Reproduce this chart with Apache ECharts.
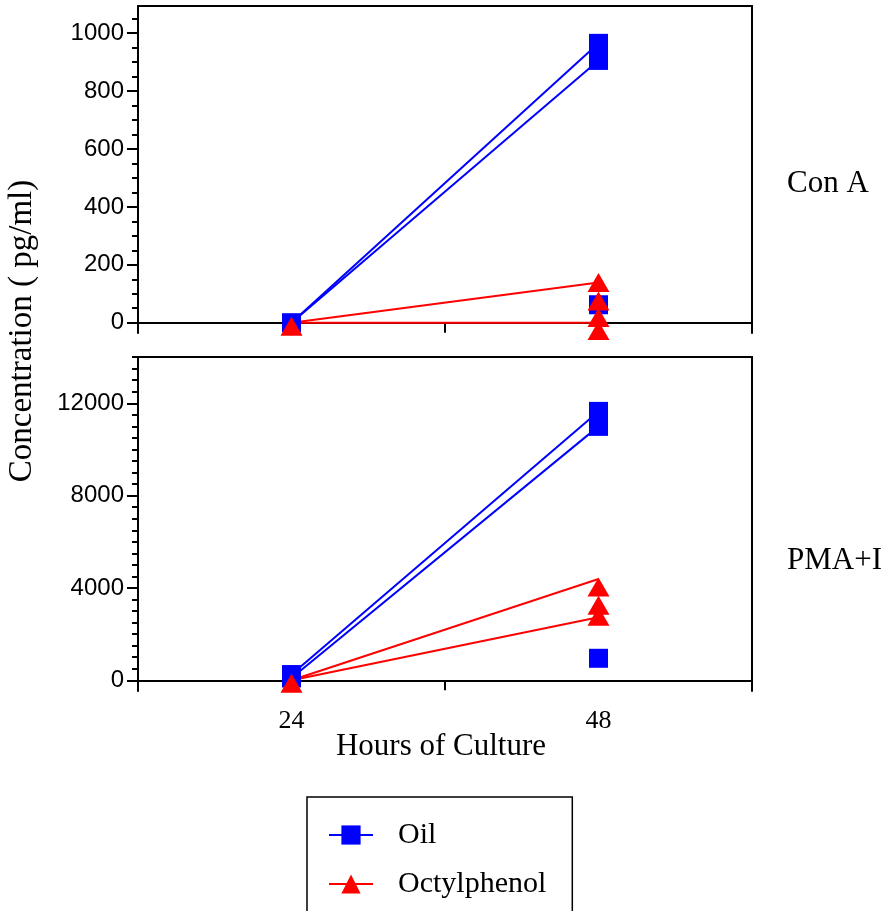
<!DOCTYPE html>
<html>
<head>
<meta charset="utf-8">
<script src="https://cdn.jsdelivr.net/npm/echarts@6/dist/echarts.min.js"></script>
<style>html,body{margin:0;padding:0;background:#fff}#c{width:883px;height:911px}</style>
</head>
<body>
<div id="c"></div>
<script>
// ---- categories ----
const hours = ['24', '48'];

// ---- Con A panel (pg/ml) ----
const conAOilLine1 = [0, 965];
const conAOilLine2 = [0, 906];
const conAOctLine1 = [0, 139];
const conAOctLine2 = [0, 0];
const conAOilPtsX = ['24', '48', '48', '48'];
const conAOilPtsY = [0, 965, 906, 62];
const conAOctPtsX = ['24', '48', '48', '48', '48'];
const conAOctPtsY = [-12, 139, 75, 18, -27];

// ---- PMA+I panel (pg/ml) ----
const pmaOilLine1 = [250, 11650];
const pmaOilLine2 = [100, 11000];
const pmaOctLine1 = [0, 4390];
const pmaOctLine2 = [0, 2730];
const pmaOilPtsX = ['24', '24', '48', '48', '48'];
const pmaOilPtsY = [250, 100, 11650, 11000, 954];
const pmaOctPtsX = ['24', '48', '48', '48'];
const pmaOctPtsY = [-130, 4040, 3250, 2780];

// ---- tick labels ----
const conATicks = [0, 200, 400, 600, 800, 1000];
const pmaTicks = [0, 4000, 8000, 12000];
const conAMinorStep = 50;
const pmaMinorStep = 500;

const conARange = [-35.6, 1094];
const pmaRange = [-463, 14006];

function steps(from, to, step) { const a = []; for (let v = from; v <= to + 1e-9; v += step) a.push(v); return a; }
const conAMinor = steps(0, 1050, conAMinorStep);
const pmaMinor = steps(0, 14000, pmaMinorStep);

const BLUE = '#0000ff', RED = '#ff0000', BLACK = '#000';
const SERIF = 'Liberation Serif', SANS = 'Liberation Sans';

function pts(xs, ys) { return xs.map((x, i) => [x, ys[i]]); }

function xAxes(g, showLabels) {
  return [
    { type: 'category', gridIndex: g, data: hours, boundaryGap: true, position: 'bottom',
      axisLine: { onZero: true, lineStyle: { color: BLACK, width: 2 } },
      axisTick: { show: true, length: 10, alignWithLabel: false, lineStyle: { color: BLACK, width: 2 } },
      axisLabel: { show: showLabels, margin: 17, color: BLACK, fontFamily: SERIF, fontSize: 26 },
      splitLine: { show: false } },
    { type: 'category', gridIndex: g, data: hours, boundaryGap: true, position: 'top',
      axisLine: { onZero: false, lineStyle: { color: BLACK, width: 2 } },
      axisTick: { show: false }, axisLabel: { show: false }, splitLine: { show: false } }
  ];
}
function yAxes(g, range, minor, major) {
  return [
    { type: 'value', gridIndex: g, min: range[0], max: range[1], position: 'left',
      axisLine: { show: true, onZero: false, lineStyle: { color: BLACK, width: 2 } },
      axisTick: { show: true, customValues: minor, length: 6, lineStyle: { color: BLACK, width: 2 } },
      axisLabel: { show: false }, splitLine: { show: false } },
    { type: 'value', gridIndex: g, min: range[0], max: range[1], position: 'left',
      axisLine: { show: false, onZero: false },
      axisTick: { show: true, customValues: major, length: 11, lineStyle: { color: BLACK, width: 2 } },
      axisLabel: { show: true, customValues: major, margin: 14, color: BLACK, fontFamily: SANS, fontSize: 24,
        formatter: v => String(v) },
      splitLine: { show: false } },
    { type: 'value', gridIndex: g, min: range[0], max: range[1], position: 'right',
      axisLine: { show: true, onZero: false, lineStyle: { color: BLACK, width: 2 } },
      axisTick: { show: false }, axisLabel: { show: false }, splitLine: { show: false } }
  ];
}
function lineS(name, data, color, sym, xi, yi) {
  return { type: 'line', name, data, xAxisIndex: xi, yAxisIndex: yi, symbol: sym, showSymbol: false,
    lineStyle: { color, width: 2 }, itemStyle: { color }, silent: true, animation: false, z: 2 };
}
function scat(name, data, color, sym, size, xi, yi) {
  return { type: 'scatter', name, data, xAxisIndex: xi, yAxisIndex: yi, symbol: sym, symbolSize: size,
    itemStyle: { color, opacity: 1 }, silent: true, animation: false, clip: false, z: 3 };
}

const option = {
  animation: false,
  backgroundColor: '#fff',
  grid: [
    { left: 138, top: 6, width: 614, height: 327 },
    { left: 138, top: 357, width: 614, height: 334 }
  ],
  xAxis: [...xAxes(0, false), ...xAxes(1, true)],
  yAxis: [...yAxes(0, conARange, conAMinor, conATicks), ...yAxes(1, pmaRange, pmaMinor, pmaTicks)],
  legend: {
    data: ['Oil', 'Octylphenol'], orient: 'vertical', left: 307, top: 797, height: 140,
    padding: [23, 26, 40, 21], itemGap: 19, itemWidth: 44, itemHeight: 24,
    borderColor: BLACK, borderWidth: 1.5, selectedMode: false,
    textStyle: { fontFamily: SERIF, fontSize: 30, color: BLACK, padding: [0, 0, 0, 20] }
  },
  series: [
    lineS('Oil', conAOilLine1, BLUE, 'rect', 0, 0),
    lineS('Oil', conAOilLine2, BLUE, 'rect', 0, 0),
    lineS('Octylphenol', conAOctLine1, RED, 'triangle', 0, 0),
    lineS('Octylphenol', conAOctLine2, RED, 'triangle', 0, 0),
    lineS('Oil', pmaOilLine1, BLUE, 'rect', 2, 3),
    lineS('Oil', pmaOilLine2, BLUE, 'rect', 2, 3),
    lineS('Octylphenol', pmaOctLine1, RED, 'triangle', 2, 3),
    lineS('Octylphenol', pmaOctLine2, RED, 'triangle', 2, 3),
    scat('Oil', pts(conAOilPtsX, conAOilPtsY), BLUE, 'rect', [19, 19], 0, 0),
    scat('Octylphenol', pts(conAOctPtsX, conAOctPtsY), RED, 'triangle', [22, 19], 0, 0),
    scat('Oil', pts(pmaOilPtsX, pmaOilPtsY), BLUE, 'rect', [19, 19], 2, 3),
    scat('Octylphenol', pts(pmaOctPtsX, pmaOctPtsY), RED, 'triangle', [22, 19], 2, 3)
  ],
  graphic: [
    { type: 'text', left: 787, top: 168, style: { text: 'Con A', font: '31px "Liberation Serif"', fill: BLACK } },
    { type: 'text', left: 787, top: 545, style: { text: 'PMA+I', font: '31px "Liberation Serif"', fill: BLACK } },
    { type: 'text', x: 441, y: 747, style: { text: 'Hours of Culture', font: '31px "Liberation Serif"', fill: BLACK, textAlign: 'center', textVerticalAlign: 'middle' } },
    { type: 'text', x: 22, y: 331, rotation: Math.PI / 2, style: { text: 'Concentration ( pg/ml)', font: '33px "Liberation Serif"', fill: BLACK, textAlign: 'center', textVerticalAlign: 'middle' } }
  ]
};
const chart = echarts.init(document.getElementById('c'), null, { renderer: 'canvas' });
chart.setOption(option);
</script>
</body>
</html>
